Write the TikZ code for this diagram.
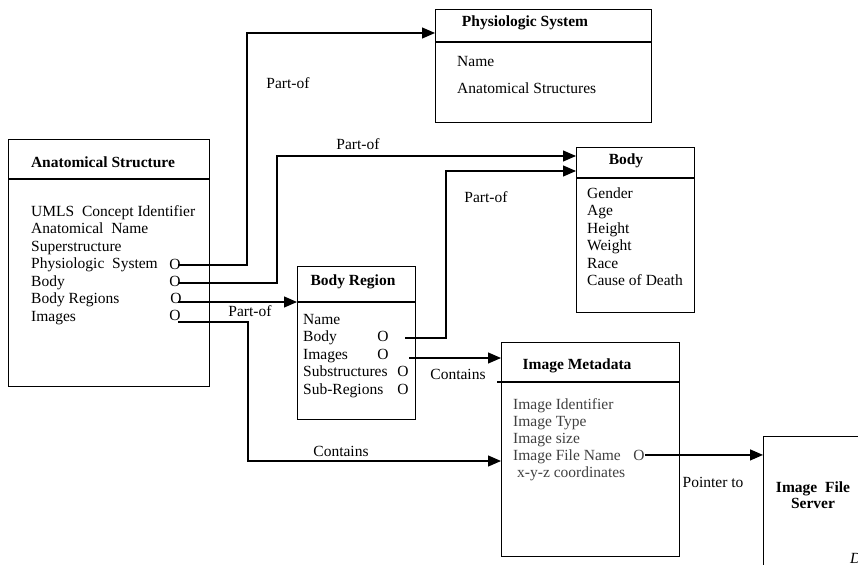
\documentclass[tikz,border=0pt]{standalone}
\usepackage{fontspec}
\setmainfont{Liberation Serif}
\usepackage{tikz}
\usetikzlibrary{arrows.meta}
\newcommand{\fs}{\fontsize{15.5}{17.5}\selectfont}

\begin{document}
\begin{tikzpicture}[x=1pt,y=-1pt,
  box/.style={draw,line width=1.2pt,inner sep=0,anchor=north west},
  title/.style={font=\fs\bfseries,inner sep=0},
  field/.style={font=\fs,inner sep=0,anchor=base west,align=left},
  omark/.style={font=\fs,inner sep=0,anchor=base},
  lab/.style={font=\fs,inner sep=0},
  link/.style={line width=1.2pt},
  arr/.style={line width=1.2pt,-{Triangle[length=13pt,width=11pt]}}]
  \useasboundingbox (0,0) rectangle (858,564);
  \clip (0,0) rectangle (858,564);

  % boxes
  \node[box,minimum width=201,minimum height=247] (as) at (8,139) {};
  \node[box,minimum width=216,minimum height=113] (ps) at (435,9) {};
  \node[box,minimum width=118,minimum height=165] (bd) at (576,147) {};
  \node[box,minimum width=118,minimum height=153] (br) at (297,266) {};
  \node[box,minimum width=178,minimum height=214] (im) at (501,342) {};
  \node[box,minimum width=130,minimum height=150] (fs) at (763,436) {};
  \draw[link] (as.west |- 0,179) -- (as.east |- 0,179);
  \draw[link] (ps.west |- 0,42) -- (ps.east |- 0,42);
  \draw[link] (bd.west |- 0,178) -- (bd.east |- 0,178);
  \draw[link] (br.west |- 0,302) -- (br.east |- 0,302);
  \draw[link] (497,382) -- (im.east |- 0,382);

  % titles and fields (base = last line)
  \node[title] (as-t) at (103,162) {Anatomical Structure};
  \node[field] (as-f) at (31,321) {UMLS\ \ Concept Identifier\\Anatomical\ \ Name\\Superstructure\\Physiologic\ \ System\\Body\\Body Regions\\Images};
  \node[omark] (as-o1) at (175,269) {O};
  \node[omark] (as-o2) at (175,286) {O};
  \node[omark] (as-o3) at (176,303) {O};
  \node[omark] (as-o4) at (175,320) {O};

  \node[title] (ps-t) at (525,23) {Physiologic System};
  \node[field] (ps-f1) at (457,67) {Name};
  \node[field] (ps-f2) at (457,94) {Anatomical Structures};

  \node[title] (bd-t) at (626,161) {Body};
  \node[field] (bd-f) at (587,285.5) {Gender\\Age\\Height\\Weight\\Race\\Cause of Death};

  \node[title] (br-t) at (353,282) {Body Region};
  \node[field] (br-f) at (303,394) {Name\\Body\\Images\\Substructures\\Sub-Regions};
  \node[omark] (br-o1) at (383,341) {O};
  \node[omark] (br-o2) at (383,359) {O};
  \node[omark] (br-o3) at (403,376) {O};
  \node[omark] (br-o4) at (403,394) {O};

  \node[title] (im-t) at (577,366) {Image Metadata};
  \node[field,text=black!75,font=\fontsize{15.5}{17}\selectfont] (im-f) at (513,477) {Image Identifier\\Image Type\\Image size\\Image File Name\\\hspace{4pt}x-y-z coordinates};
  \node[omark,text=black!75] (im-o) at (639,460) {O};

  \node[title,align=center,font=\fontsize{15.5}{16}\selectfont\bfseries] (fs-t) at (813,495) {Image\ \ File\\Server};
  \node[lab,font=\fs\itshape,anchor=west] (fs-d) at (850,558) {D};

  % connector ends
  \coordinate (as-s1) at (178,265);
  \coordinate (as-s2) at (178,283);
  \coordinate (as-s3) at (178,302);
  \coordinate (as-s4) at (178,322);
  \coordinate (br-s1) at (405,338);
  \coordinate (br-s2) at (409,358);
  \coordinate (k1) at (247,33);
  \coordinate (k2) at (277,156);
  \coordinate (k4) at (248,461);
  \coordinate (k5) at (446,171);

  \draw[arr] (as-s1) -| (k1) -- (ps.west |- k1);
  \draw[arr] (as-s2) -| (k2) -- (bd.west |- k2);
  \draw[arr] (as-s3) -- (br.west |- as-s3);
  \draw[arr] (as-s4) -| (k4) -- (im.west |- k4);
  \draw[arr] (br-s1) -| (k5) -- (bd.west |- k5);
  \draw[arr] (br-s2) -- (im.west |- br-s2);
  \draw[arr] (im-o.east) -- (fs.west |- im-o.east);

  % labels
  \node[lab] (l1) at (288,83) {Part-of};
  \node[lab] (l2) at (358,144) {Part-of};
  \node[lab] (l3) at (486,197) {Part-of};
  \node[lab] (l4) at (250,311) {Part-of};
  \node[lab] (l5) at (458,374) {Contains};
  \node[lab] (l6) at (341,451) {Contains};
  \node[lab] (l7) at (713,482) {Pointer to};
\end{tikzpicture}
\end{document}
